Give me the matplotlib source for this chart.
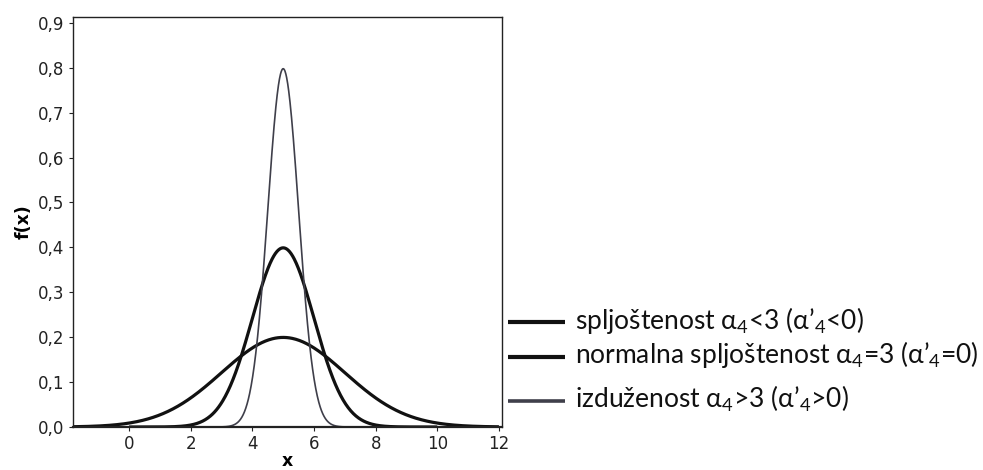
import numpy as np
import matplotlib
matplotlib.use("Agg")
import matplotlib.pyplot as plt
from matplotlib.lines import Line2D
from matplotlib.ticker import FuncFormatter

# Normal densities (mean 5, peaks ~0.2, ~0.4, ~0.8)
labels = [
    r"spljoštenost α$_4$<3 (α’$_4$<0)",
    r"normalna spljoštenost α$_4$=3 (α’$_4$=0)",
    r"izduženost α$_4$>3 (α’$_4$>0)",
]
means = [5.0, 5.0, 5.0]
sigmas = [2.0, 1.0, 0.5]
x_start = [-1.8, 0.0, 2.5]
x_end = [12.0, 10.0, 7.5]
x_ticks = [0, 2, 4, 6, 8, 10, 12]
y_ticks = [0.0, 0.1, 0.2, 0.3, 0.4, 0.5, 0.6, 0.7, 0.8, 0.9]

colors = ["#111111", "#111111", "#3f3f4a"]
widths = [2.3, 2.3, 1.2]
legend_rows_px = [322, 357, 401]

plt.rcParams["mathtext.fontset"] = "custom"
plt.rcParams["mathtext.rm"] = "Lato"

fig = plt.figure(figsize=(9.83, 4.70), dpi=100)
ax = fig.add_axes([73/983, 1-427/470, 429/983, 410/470])

for m, s, a, b, c, w in zip(means, sigmas, x_start, x_end, colors, widths):
    xs = np.linspace(a, b, 600)
    ys = np.exp(-0.5*((xs-m)/s)**2) / (s*np.sqrt(2*np.pi))
    ax.plot(xs, ys, color=c, lw=w, solid_capstyle="butt")

ax.set_xlim(-1.82, 12.1)
ax.set_ylim(0, 0.913)
ax.set_xticks(x_ticks)
ax.set_yticks(y_ticks)
ax.yaxis.set_major_formatter(FuncFormatter(lambda v, p: f"{v:.1f}".replace(".", ",")))
ax.tick_params(direction="out", length=3, width=0.8, labelsize=12, colors="#222222", pad=3)
for sp in ax.spines.values():
    sp.set_linewidth(1.0)
    sp.set_color("#222222")
ax.spines["bottom"].set_linewidth(1.6)
ax.set_xlabel("x", fontsize=12.5, fontweight="bold", labelpad=-1)
ax.set_ylabel("f(x)", fontsize=12.5, fontweight="bold", labelpad=4)

W, H = 983, 470
for lab, c, w, ypx in zip(labels, colors, widths, legend_rows_px):
    yf = 1 - ypx/H
    fig.add_artist(Line2D([508/W, 565/W], [yf, yf], transform=fig.transFigure,
                          color=c, lw=(3.0 if w > 2 else 2.6), solid_capstyle="butt"))
    fig.text(575/W, yf + 2/H, lab, transform=fig.transFigure, ha="left", va="center",
             fontsize=19, family="Lato", color="#111111")

fig.savefig("out.png", dpi=100)
